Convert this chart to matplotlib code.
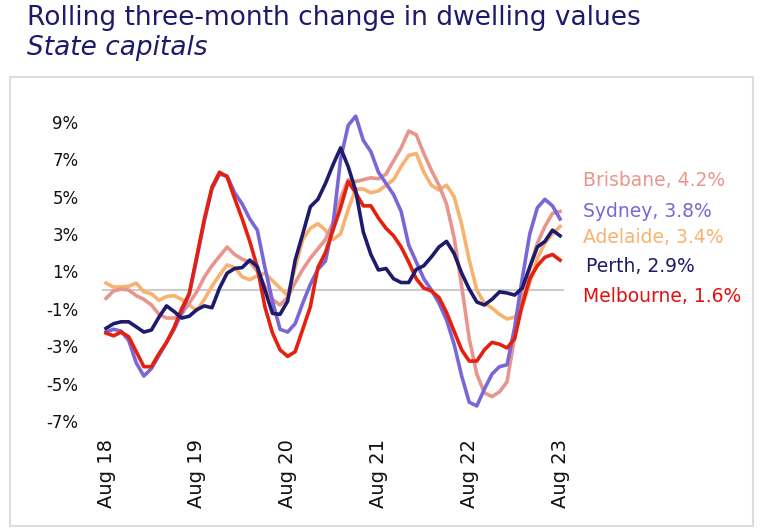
import matplotlib
matplotlib.use('Agg')
import matplotlib.pyplot as plt
from matplotlib.patches import Rectangle

# monthly, Aug 2018 .. Aug 2023 (61 points), rolling 3-month change, %
brisbane = [-0.45, -0.05, 0.05, 0.0, -0.3, -0.5, -0.8, -1.3, -1.5, -1.5,
            -1.3, -0.7, -0.1, 0.7, 1.3, 1.8, 2.3, 1.9, 1.65, 1.5,
            1.0, 0.2, -0.5, -0.8, -0.4, 0.4, 1.1, 1.7, 2.2, 2.7,
            3.6, 4.9, 5.9, 5.8, 5.9, 6.0, 5.95, 6.2, 6.9, 7.6,
            8.5, 8.3, 7.3, 6.4, 5.6, 4.6, 2.8, 0.2, -2.6, -4.5,
            -5.5, -5.7, -5.45, -4.9, -2.5, -0.5, 1.2, 2.5, 3.4, 4.1, 4.2]
sydney = [-2.25, -2.1, -2.2, -2.7, -3.9, -4.6, -4.2, -3.5, -2.8, -2.1,
          -1.2, -0.2, 1.7, 3.7, 5.4, 6.2, 6.1, 5.2, 4.6, 3.8,
          3.2, 1.2, -0.6, -2.1, -2.25, -1.8, -0.7, 0.3, 1.1, 1.55,
          3.5, 7.0, 8.8, 9.3, 8.0, 7.4, 6.3, 5.7, 5.1, 4.2,
          2.4, 1.5, 0.6, 0.0, -0.7, -1.6, -2.9, -4.6, -6.0, -6.2,
          -5.3, -4.5, -4.1, -4.0, -2.0, 0.6, 3.0, 4.4, 4.85, 4.5, 3.8]
adelaide = [0.37, 0.16, 0.16, 0.2, 0.37, -0.1, -0.2, -0.55, -0.35, -0.3,
            -0.5, -0.8, -1.1, -0.5, 0.2, 0.8, 1.34, 1.2, 0.7, 0.55,
            0.75, 0.9, 0.5, 0.1, -0.3, 1.2, 2.7, 3.3, 3.55, 3.2,
            2.7, 3.0, 4.3, 5.4, 5.4, 5.2, 5.3, 5.6, 5.9, 6.6,
            7.2, 7.3, 6.3, 5.6, 5.35, 5.6, 5.0, 3.5, 1.6, 0.0,
            -0.7, -0.96, -1.3, -1.55, -1.45, -0.9, 0.4, 1.7, 2.5, 3.0, 3.4]
perth = [-2.05, -1.8, -1.7, -1.7, -1.97, -2.25, -2.14, -1.45, -0.85, -1.15,
         -1.5, -1.4, -1.05, -0.85, -0.95, 0.1, 0.9, 1.15, 1.2, 1.6,
         1.25, 0.0, -1.25, -1.3, -0.6, 1.6, 3.0, 4.45, 4.85, 5.7,
         6.7, 7.6, 6.6, 5.3, 3.1, 1.9, 1.07, 1.15, 0.6, 0.4,
         0.4, 1.1, 1.3, 1.77, 2.3, 2.6, 1.95, 0.9, 0.05, -0.64,
         -0.8, -0.5, -0.1, -0.16, -0.27, 0.1, 1.23, 2.3, 2.6, 3.2, 2.9]
melbourne = [-2.3, -2.45, -2.25, -2.5, -3.3, -4.1, -4.1, -3.4, -2.8, -2.0,
             -1.0, -0.2, 1.8, 3.8, 5.5, 6.3, 6.05, 4.9, 3.8, 2.6,
             1.2, -0.9, -2.3, -3.2, -3.55, -3.3, -2.1, -0.9, 1.2, 2.0,
             3.2, 4.4, 5.8, 5.2, 4.5, 4.5, 3.85, 3.3, 2.9, 2.3,
             1.5, 0.6, 0.1, -0.05, -0.4, -1.2, -2.2, -3.2, -3.8, -3.8,
             -3.2, -2.8, -2.9, -3.1, -2.6, -0.8, 0.6, 1.3, 1.75, 1.9, 1.6]

xtick_labels = ['Aug 18', 'Aug 19', 'Aug 20', 'Aug 21', 'Aug 22', 'Aug 23']
ytick_values = [9, 7, 5, 3, 1, -1, -3, -5, -7]
ytick_labels = ['9%', '7%', '5%', '3%', '1%', '-1%', '-3%', '-5%', '-7%']

c_bris = '#E8968D'
c_syd = '#7A66D6'
c_adl = '#F8B26F'
c_per = '#1E1B6C'
c_mel = '#E5200E'

fig = plt.figure(figsize=(7.64, 5.28), dpi=100)
ax = fig.add_axes([0.1338, 0.1745, 0.6042, 0.6304])

months = list(range(len(sydney)))
ax.axhline(0, color='#cccccc', lw=1.5, zorder=1)
ax.plot(months, adelaide, color=c_adl, lw=2.6, zorder=2)
ax.plot(months, brisbane, color=c_bris, lw=2.6, zorder=3)
ax.plot(months, sydney, color=c_syd, lw=2.6, zorder=4)
ax.plot(months, melbourne, color=c_mel, lw=2.6, zorder=5)
ax.plot(months, perth, color=c_per, lw=2.6, zorder=6)

ax.set_xlim(-0.5, 60.5)
ax.set_ylim(-7.8, 10)
ax.set_xticks(months[::12])
ax.set_xticklabels(xtick_labels, rotation=90, fontsize=14, color='#111111')
ax.set_yticks(ytick_values)
ax.set_yticklabels(ytick_labels, fontsize=12, color='#111111')
ax.tick_params(axis='both', length=0)
ax.tick_params(axis='y', pad=17)
ax.tick_params(axis='x', pad=2)
for s in ax.spines.values():
    s.set_visible(False)

# end labels
W, H = 764, 528
labels = ['Brisbane, 4.2%', 'Sydney, 3.8%', 'Adelaide, 3.4%', 'Perth, 2.9%', 'Melbourne, 1.6%']
lab_colors = [c_bris, c_syd, c_adl, c_per, '#E31010']
lab_x = [583, 583, 583, 586, 583]
lab_y = [186, 217, 243, 272, 302]
for t, c, x, y in zip(labels, lab_colors, lab_x, lab_y):
    fig.text(x / W, 1 - y / H, t, color=c, fontsize=13.5, va='baseline', ha='left')

fig.text(27 / W, 1 - 25 / H, 'Rolling three-month change in dwelling values',
         fontsize=19, color='#1D1A6B', va='baseline')
fig.text(27 / W, 1 - 55 / H, 'State capitals', fontsize=19, style='italic',
         color='#1D1A6B', va='baseline')

fig.patches.append(Rectangle((10 / W, 1 - 526 / H), 743 / W, 449 / H,
                             transform=fig.transFigure, fill=False,
                             edgecolor='#dddddd', lw=1.5))

fig.savefig('out.png', dpi=100)
